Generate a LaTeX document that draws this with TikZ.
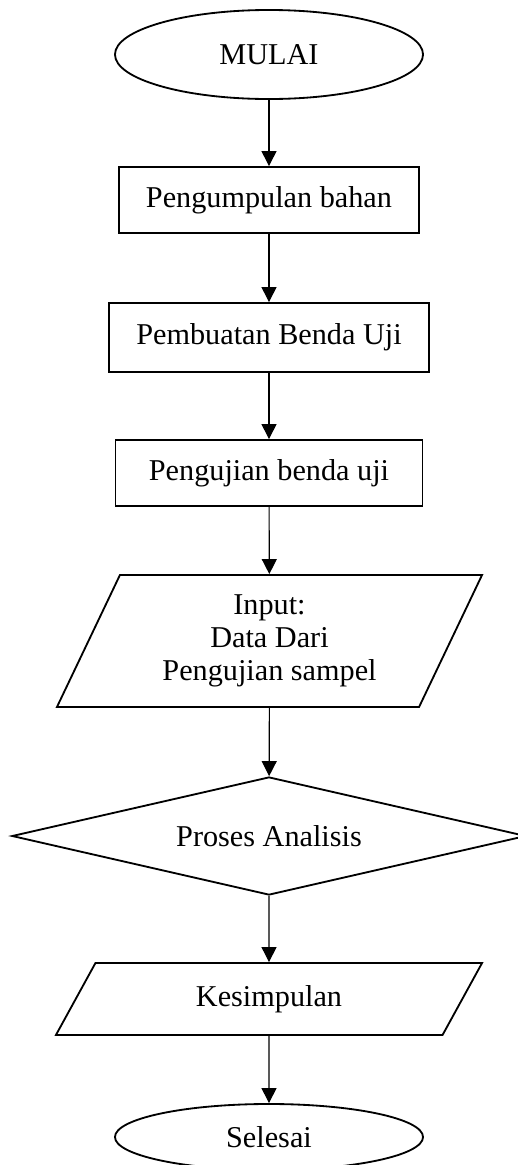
\documentclass[tikz,border=0pt]{standalone}
\usepackage{fontspec}
\setmainfont{Liberation Serif}
\usetikzlibrary{shapes.geometric,arrows.meta}

\begin{document}
\begin{tikzpicture}[x=0.025cm,y=-0.025cm,
  font=\fontsize{21.5}{23.4}\selectfont,
  shapeline/.style={draw,line width=1.3pt,inner sep=2pt},
  terminal/.style={shapeline,ellipse,minimum width=7.7cm},
  process/.style={shapeline,rectangle,minimum height=1.65cm},
  inout/.style={shapeline,trapezium,trapezium stretches body,align=center},
  decision/.style={shapeline,diamond,aspect=4.3,minimum width=12.85cm,minimum height=2.95cm},
  flow/.style={line width=0.8pt,-{Triangle[length=0.375cm,width=0.375cm]}}]
\useasboundingbox (0,0) rectangle (518,1165);

%\draw[help lines,step=50] (0,0) grid (518,1165);
\node[terminal,minimum height=2.225cm] (mulai) at (269,54.5) {MULAI};
\node[process,minimum width=7.5cm] (kumpul) at (269,200) {Pengumpulan bahan};
\node[process,minimum width=8cm,minimum height=1.725cm] (buat) at (269,337.5) {Pembuatan Benda Uji};
\node[process,minimum width=7.675cm] (uji) at (269,473) {Pengujian benda uji};

% input / proses
\node[inout,trapezium left angle=57.2,trapezium right angle=122.8,minimum width=10.625cm,minimum height=3.3cm] (input) at (269.5,641) {Input:\\Data Dari\\Pengujian sampel};
\node[decision] (analisis) at (269,836) {Proses Analisis};
\node[inout,trapezium left angle=39.9,trapezium right angle=140.1,minimum width=10.65cm,minimum height=1.8cm] (simpul) at (269,999) {Kesimpulan};
\node[terminal,minimum height=1.65cm] (selesai) at (269,1137) {Selesai};

\draw[flow] (mulai) -- (kumpul);
\draw[flow] (kumpul) -- (buat);
\draw[flow] (buat) -- (uji);
\draw[flow] (uji) -- (input);
\draw[flow] (input) -- (analisis);
\draw[flow] (analisis) -- (simpul);
\draw[flow] (simpul) -- (selesai);

\end{tikzpicture}
\end{document}
